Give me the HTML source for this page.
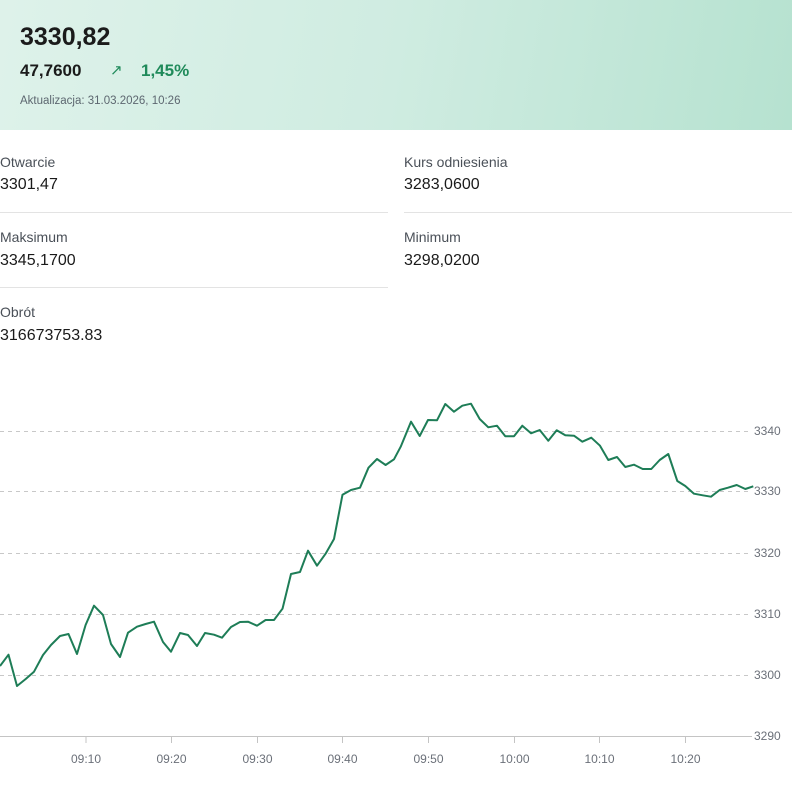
<!DOCTYPE html>
<html><head><meta charset="utf-8"><style>
body{margin:0;width:792px;height:790px;background:#fff;font-family:"Liberation Sans",sans-serif;position:relative;overflow:hidden}
.hdr{position:absolute;left:0;top:0;width:792px;height:130px;background:linear-gradient(100deg,#def2ea 0%,#cfece1 50%,#b6e2d0 100%)}
.t{position:absolute;white-space:nowrap}
.lab{font-size:14px;color:#4a5058}
.val{font-size:16px;color:#1a1a1a}
.hr{position:absolute;height:1px;background:#e3e3e3}
</style></head><body>
<div class="hdr">
<div class="t" style="left:20px;top:23px;font-size:25px;font-weight:bold;color:#1b1b1b">3330,82</div>
<div class="t" style="left:20px;top:61px;font-size:17px;font-weight:bold;color:#1b1b1b">47,7600</div>
<div class="t" style="left:110px;top:61px;font-size:15px;color:#1f8a5a">↗</div>
<div class="t" style="left:141px;top:61px;font-size:17px;font-weight:bold;color:#1f8a5a">1,45%</div>
<div class="t" style="left:20px;top:95px;font-size:11.5px;color:#5d6770">Aktualizacja: 31.03.2026, 10:26</div>
</div>
<div class="t lab" style="left:0;top:154px">Otwarcie</div>
<div class="t val" style="left:0;top:176px">3301,47</div>
<div class="t lab" style="left:404px;top:154px">Kurs odniesienia</div>
<div class="t val" style="left:404px;top:176px">3283,0600</div>
<div class="hr" style="left:0;top:212px;width:388px"></div>
<div class="hr" style="left:404px;top:212px;width:388px"></div>
<div class="t lab" style="left:0;top:229px">Maksimum</div>
<div class="t val" style="left:0;top:252px">3345,1700</div>
<div class="t lab" style="left:404px;top:229px">Minimum</div>
<div class="t val" style="left:404px;top:252px">3298,0200</div>
<div class="hr" style="left:0;top:287px;width:388px"></div>
<div class="t lab" style="left:0;top:304px">Obrót</div>
<div class="t val" style="left:0;top:327px">316673753.83</div>
<svg style="position:absolute;left:0;top:0" width="792" height="790">
<g stroke="#c8c8c8" stroke-dasharray="4,4" stroke-width="1">
<line x1="0" y1="431.5" x2="752" y2="431.5"/><line x1="0" y1="491.5" x2="752" y2="491.5"/>
<line x1="0" y1="553.5" x2="752" y2="553.5"/><line x1="0" y1="614.5" x2="752" y2="614.5"/>
<line x1="0" y1="675.5" x2="752" y2="675.5"/></g>
<line x1="0" y1="736.5" x2="752" y2="736.5" stroke="#c4c4c4"/>
<g stroke="#c4c4c4"><line x1="86" y1="736" x2="86" y2="743"/><line x1="171.5" y1="736" x2="171.5" y2="743"/><line x1="257.5" y1="736" x2="257.5" y2="743"/><line x1="342.5" y1="736" x2="342.5" y2="743"/><line x1="428.5" y1="736" x2="428.5" y2="743"/><line x1="514.5" y1="736" x2="514.5" y2="743"/><line x1="599.5" y1="736" x2="599.5" y2="743"/><line x1="685.5" y1="736" x2="685.5" y2="743"/></g>
<g font-family="Liberation Sans,sans-serif" font-size="12" fill="#6b7079" text-anchor="middle">
<text x="86" y="763">09:10</text><text x="171.5" y="763">09:20</text><text x="257.5" y="763">09:30</text><text x="342.5" y="763">09:40</text><text x="428.5" y="763">09:50</text><text x="514.5" y="763">10:00</text><text x="599.5" y="763">10:10</text><text x="685.5" y="763">10:20</text></g>
<g font-family="Liberation Sans,sans-serif" font-size="12" fill="#6b7079">
<text x="754" y="435">3340</text><text x="754" y="495">3330</text><text x="754" y="557">3320</text><text x="754" y="618">3310</text><text x="754" y="679">3300</text><text x="754" y="740">3290</text></g>
<polyline fill="none" stroke="#1e7d57" stroke-width="2" stroke-linejoin="round" points="0,666 8.5,654.7 17,686 25.7,679 34,671.7 43,655 51,645 60,636 68.5,634 77,654 85.6,625 94,605.7 103,615 111,644 120,657 128,632.7 137,626.7 145.6,624 154,621.7 163,642 171,651.7 180,633 188,635 197,646 205,633 214,634.7 222,637.7 231,627 240,622 248,621.7 257,625.7 265.6,620 274,620 282.5,608.7 291,574 300,572 308,550.7 317,565.7 325.6,553.7 334,539 342.5,494.7 351,490 360,487.7 368.5,467.7 377,459 385.6,465 394,459.3 400.7,446.7 411,421.7 419.7,436 428,420 437,420.3 445.3,404 454,411.7 462.3,405.7 471,403.7 479.7,419 488.3,427.3 497,425.7 505.3,436.3 514,436.3 522.3,425.7 531,433.3 539.7,430 548.3,440.7 556.7,430.3 565.3,435.3 574,435.7 582.3,441.7 591.3,437.7 600,445.7 608.3,460 617,457 625.3,467 634,464.7 642.7,469 651.3,469 659.7,460 668.3,454 677.3,481 685.3,486 694,493.7 702.7,495.3 711,496.7 719.7,490 728,487.7 736.7,485 745.3,489 753.3,486.3"/>
</svg>
</body></html>
